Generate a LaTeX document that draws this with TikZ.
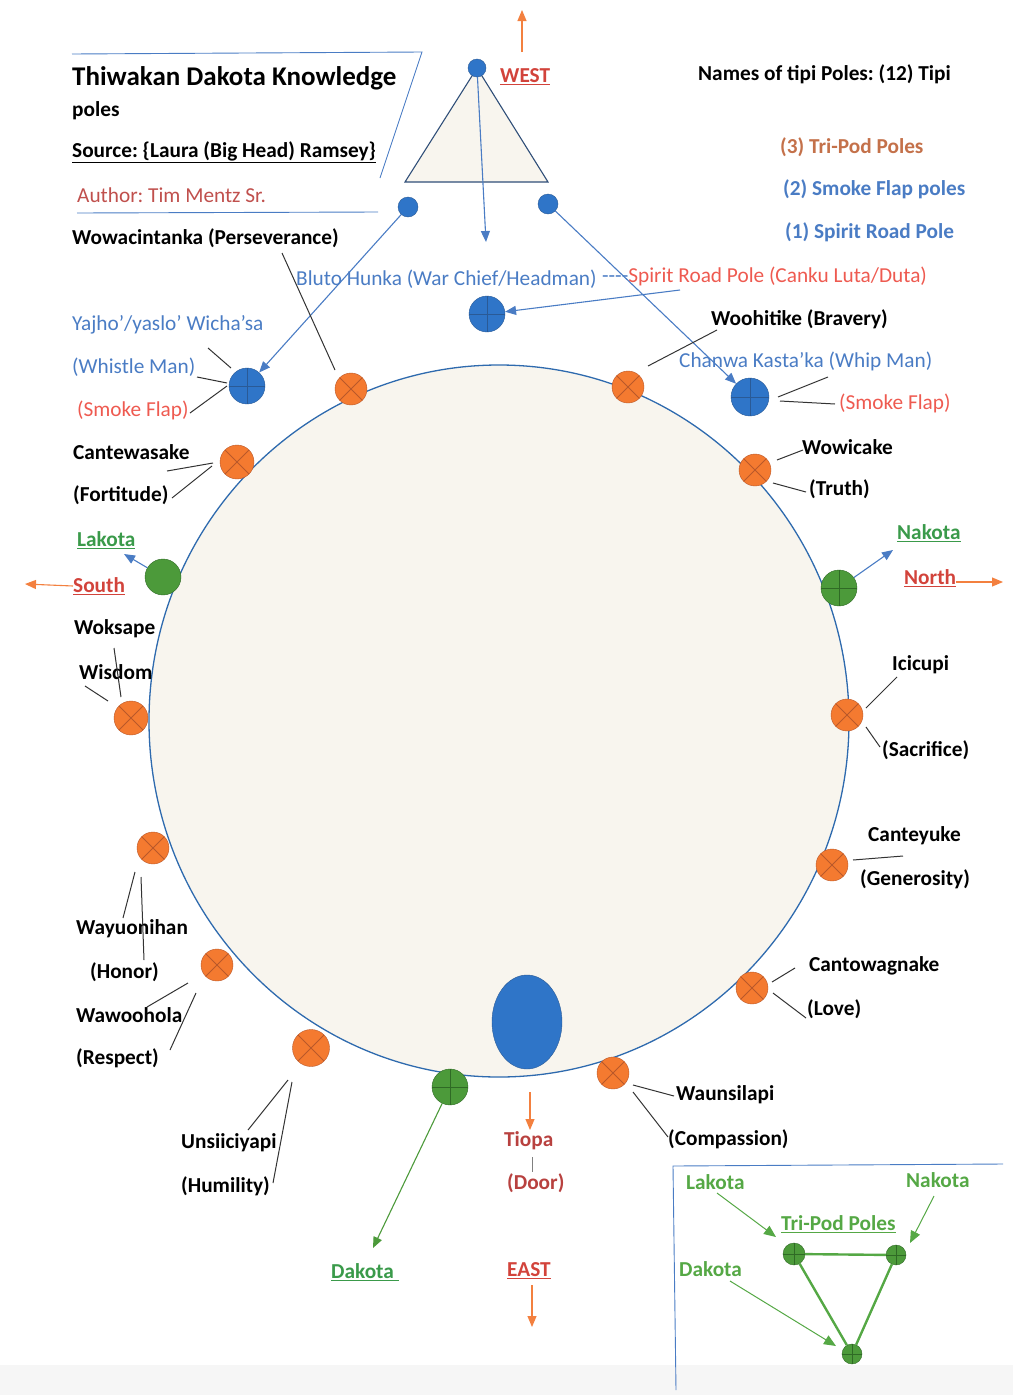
\documentclass[tikz,border=0pt]{standalone}
\usepackage{fontspec}
\setmainfont{Carlito}
\frenchspacing
\usetikzlibrary{arrows.meta,shapes.geometric}

\definecolor{beige}{HTML}{F8F5EE}
\definecolor{rimblue}{HTML}{2E6AAE}
\definecolor{navy}{HTML}{2F4E78}
\definecolor{orng}{HTML}{F47A30}
\definecolor{orngdark}{HTML}{B9582A}
\definecolor{poleblue}{HTML}{2F75C8}
\definecolor{poleblueline}{HTML}{2A5A96}
\definecolor{polegreen}{HTML}{4C9A3A}
\definecolor{polegreenline}{HTML}{2F6A25}
\definecolor{txtblue}{HTML}{4A7CC4}
\definecolor{txtred}{HTML}{EE5A50}
\definecolor{dirred}{HTML}{D2433B}
\definecolor{authred}{HTML}{C0504D}
\definecolor{doorred}{HTML}{B8413F}
\definecolor{txtgreen}{HTML}{3A9A4A}
\definecolor{boxgreen}{HTML}{55A845}
\definecolor{tripod}{HTML}{C4714A}
\definecolor{arrorange}{HTML}{F3803F}

\begin{document}
\begin{tikzpicture}[x=1pt,y=-1pt,
    lbl/.style={font=\bfseries\fontsize{21.3}{25}\selectfont,inner sep=0pt,anchor=west},
    reg/.style={font=\fontsize{21.3}{25}\selectfont,inner sep=0pt,anchor=west},
    tri pole/.style={circle,draw=orngdark,fill=orng,minimum size=32pt,inner sep=0pt,
      path picture={\draw[orngdark,line width=0.8pt]
        (path picture bounding box.south west) -- (path picture bounding box.north east)
        (path picture bounding box.north west) -- (path picture bounding box.south east);}},
    plus pole/.style={circle,draw=#1line,fill=#1,minimum size=36pt,inner sep=0pt,
      path picture={\draw[#1line,line width=0.8pt]
        (path picture bounding box.north) -- (path picture bounding box.south)
        (path picture bounding box.west) -- (path picture bounding box.east);}},
    dot pole/.style={circle,draw=poleblueline,fill=poleblue,minimum size=20pt,inner sep=0pt},
    leader/.style={draw=black!80,line width=1pt},
    barrow/.style={draw=txtblue,line width=1.1pt,-{Triangle[length=11pt,width=9pt]}},
    oarrow/.style={draw=arrorange,line width=1.1pt,-{Triangle[length=11pt,width=9pt]}},
    garrow/.style={draw=boxgreen,line width=1.2pt,-{Triangle[length=12pt,width=10pt]}}]

\useasboundingbox (0,0) rectangle (1013,1395);
\fill[gray!7] (0,1365) rectangle (1013,1395);

% the tipi floor
\draw[rimblue,line width=1.3pt,fill=beige] (499,721) circle[x radius=350,y radius=356];
\node[ellipse,draw=poleblueline,fill=poleblue,minimum width=70pt,minimum height=94pt,inner sep=0pt] (door) at (527,1022) {};

% title block
\draw[txtblue,line width=0.9pt] (72,54) -- (422,52) -- (380,178);
\draw[txtblue,line width=0.9pt] (77,213) -- (378,212);
\node[lbl,font=\bfseries\fontsize{27}{31}\selectfont] (title) at (72,78) {Thiwakan Dakota Knowledge};
\node[lbl] (poles) at (72,111) {poles};
\node[lbl] (source) at (72,152) {\underline{Source: \{Laura (Big Head) Ramsey\}}};
\node[reg,text=authred] (author) at (77,195) {Author: Tim Mentz Sr.};
\node[lbl] (wowa) at (72,238) {Wowacintanka (Perseverance)};

% legend
\node[lbl] (names) at (698,74) {Names of tipi Poles: (12) Tipi};
\node[lbl,text=tripod] (leg3) at (780,147) {(3) Tri-Pod Poles};
\node[lbl,text=txtblue] (leg2) at (783,189) {(2) Smoke Flap poles};
\node[lbl,text=txtblue] (leg1) at (785,232) {(1) Spirit Road Pole};

% smoke flap tripod
\draw[navy,line width=1.1pt,fill=beige] (477,68) -- (405,182) -- (548,182) -- cycle;
\node[dot pole,minimum size=18pt] (apex) at (477,68) {};
\node[dot pole] (flapl) at (408,207) {};
\node[dot pole] (flapr) at (548,204) {};
\node[lbl,text=dirred] (west) at (500,77) {\underline{WEST}};
\coordinate (westtip) at (522,10);
\coordinate (apextip) at (486,242);
\draw[oarrow] (522,52) -- (westtip);
\draw[barrow] (apex) -- (apextip);

% war chief and spirit road
\node[plus pole=poleblue] (bluto) at (487,314) {};
\node[reg,text=txtblue] (blutotxt) at (296,279) {Bluto Hunka (War Chief/Headman)};
\node[reg,text=txtred] (spirit) at (602,276) {{\color{txtblue}-{}-{}-{}-}Spirit Road Pole (Canku Luta/Duta)};
\coordinate (spiritend) at (680,290);
\draw[barrow] (spiritend) -- (bluto);

% smoke flap poles
\node[plus pole=poleblue] (whistle) at (247,386) {};
\node[plus pole=poleblue,minimum size=38pt] (whip) at (750,397) {};
\draw[barrow] (flapl) -- (whistle);
\draw[barrow] (flapr) -- (whip);
\node[reg,text=txtblue] (yajho) at (72,325) {Yajho’/yaslo’ Wicha’sa};
\node[reg,text=txtblue] (whistletxt) at (72,367) {(Whistle Man)};
\node[reg,text=txtred] (flap1) at (77,410) {(Smoke Flap)};
\node[reg,text=txtblue] (chanwa) at (679,361) {Chanwa Kasta’ka (Whip Man)};
\node[reg,text=txtred] (flap2) at (839,403) {(Smoke Flap)};

% tri-pod poles
\node[plus pole=polegreen,path picture={}] (lakotap) at (163,577) {};
\node[plus pole=polegreen] (nakotap) at (839,588) {};
\node[plus pole=polegreen] (dakotap) at (450,1087) {};
\node[lbl,text=txtgreen] (lakota) at (77,540) {\underline{Lakota}};
\node[lbl,text=dirred] (south) at (73,586) {\underline{South}};
\node[lbl,text=txtgreen] (nakota) at (897,533) {\underline{Nakota}};
\node[lbl,text=dirred] (north) at (904,578) {\underline{North}};
\node[lbl,text=txtgreen] (dakota) at (331,1272) {\underline{Dakota\ }};
\coordinate (southtip) at (25,584);
\coordinate (northtip) at (1003,582);
\draw[barrow] (lakotap) -- (124,554);
\draw[oarrow] (south.west) -- (southtip);
\draw[barrow] (nakotap) -- (893,550);
\draw[oarrow] (north.east |- northtip) -- (northtip);
\draw[draw=polegreen,line width=1.1pt,-{Triangle[length=11pt,width=9pt]}] (dakotap) -- (373,1248);

% the twelve named poles
\node[tri pole] (o1) at (351,389) {};
\node[tri pole] (o2) at (628,387) {};
\node[tri pole,minimum size=34pt] (o3) at (237,462) {};
\node[tri pole] (o4) at (755,470) {};
\node[tri pole,minimum size=34pt] (o5) at (131,718) {};
\node[tri pole] (o6) at (847,715) {};
\node[tri pole] (o7) at (153,848) {};
\node[tri pole] (o8) at (832,865) {};
\node[tri pole] (o9) at (217,965) {};
\node[tri pole] (o10) at (752,988) {};
\node[tri pole,minimum size=37pt] (o11) at (311,1048) {};
\node[tri pole] (o12) at (613,1073) {};

\node[lbl] (wooh) at (711,319) {Woohitike (Bravery)};
\node[lbl] (cante) at (73,452) {Cantewasake};
\node[lbl] (fort) at (73,495) {(Fortitude)};
\node[lbl] (wowi) at (802,447) {Wowicake};
\node[lbl] (truth) at (809,489) {(Truth)};
\node[lbl] (woks) at (74,629) {Woksape};
\node[lbl] (wisd) at (79,672) {Wisdom};
\node[lbl] (icic) at (892,665) {Icicupi};
\node[lbl] (sacr) at (882,750) {(Sacrifice)};
\node[lbl] (canty) at (868,836) {Canteyuke};
\node[lbl] (gene) at (860,879) {(Generosity)};
\node[lbl] (wayu) at (76,929) {Wayuonihan};
\node[lbl] (hono) at (90,972) {(Honor)};
\node[lbl] (wawo) at (76,1015) {Wawoohola};
\node[lbl] (resp) at (76,1058) {(Respect)};
\node[lbl] (cantow) at (809,966) {Cantowagnake};
\node[lbl] (love) at (807,1009) {(Love)};
\node[lbl] (waun) at (676,1095) {Waunsilapi};
\node[lbl] (comp) at (668,1139) {(Compassion)};
\node[lbl] (unsi) at (181,1143) {Unsiiciyapi};
\node[lbl] (humi) at (181,1186) {(Humility)};

% leader lines
\draw[leader] (282,253) -- (335,370);
\draw[leader] (717,330) -- (648,366);
\draw[leader] (208,348) -- (231,368) (197,377) -- (227,383) (190,413) -- (227,386);
\draw[leader] (778,397) -- (828,377) (780,401) -- (835,404);
\draw[leader] (213,463) -- (167,471) (212,466) -- (172,498);
\draw[leader] (777,460) -- (803,450) (773,483) -- (806,492);
\draw[leader] (114,648) -- (121,697) (85,686) -- (108,701);
\draw[leader] (866,708) -- (897,677) (866,727) -- (880,747);
\draw[leader] (853,860) -- (903,856);
\draw[leader] (135,872) -- (123,918) (141,877) -- (144,960);
\draw[leader] (188,983) -- (147,1007) (196,993) -- (170,1050);
\draw[leader] (772,982) -- (795,968) (773,993) -- (806,1018);
\draw[leader] (633,1085) -- (674,1096) (633,1092) -- (668,1137);
\draw[leader] (288,1080) -- (248,1130) (292,1082) -- (273,1183);

% door and east
\node[lbl,text=doorred] (tiopa) at (504,1141) {Tiopa};
\node[lbl,text=doorred] (doortxt) at (507,1183) {(Door)};
\draw[draw=gray,line width=1pt] (532,1157) -- (532,1172);
\coordinate (tiopatip) at (530,1130);
\draw[oarrow] (530,1092) -- (tiopatip);
\node[lbl,text=dirred] (east) at (507,1271) {\underline{EAST}};
\coordinate (easttip) at (532,1327);
\draw[oarrow] (532,1285) -- (easttip);

% inset of the three tri-pod poles
\draw[txtblue,line width=0.9pt] (1003,1164) -- (673,1166) -- (676,1390);
\node[lbl,text=boxgreen] (blakota) at (686,1182) {Lakota};
\node[lbl,text=boxgreen] (bnakota) at (906,1180) {Nakota};
\node[lbl,text=boxgreen] (btripod) at (781,1224) {\underline{Tri-Pod Poles}};
\node[lbl,text=boxgreen] (bdakota) at (679,1269) {Dakota};
\node[plus pole=polegreen,minimum size=22pt] (bl) at (794,1254) {};
\node[plus pole=polegreen,minimum size=20pt] (bn) at (896,1255) {};
\node[plus pole=polegreen,minimum size=20pt] (bd) at (852,1354) {};
\draw[boxgreen,line width=2.4pt] (bl) -- (bn) -- (bd) -- (bl);
\draw[garrow,line width=1pt] (717,1193) -- (776,1237);
\draw[garrow,line width=1pt] (934,1196) -- (910,1243);
\draw[garrow,line width=1pt] (730,1281) -- (836,1346);

\end{tikzpicture}
\end{document}
